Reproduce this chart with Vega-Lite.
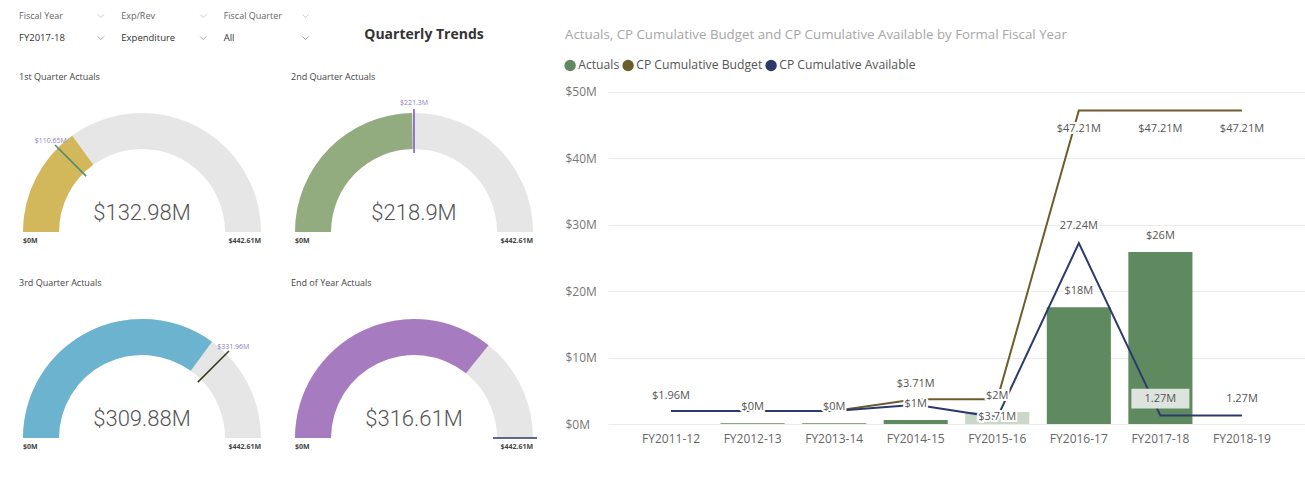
{
  "$schema": "https://vega.github.io/schema/vega-lite/v6.json",
  "background": "white",
  "padding": {"left": 19, "top": 5, "right": 0, "bottom": 0},
  "config": {
    "font": "Open Sans",
    "view": {"stroke": null},
    "locale": {"number": {"decimal": ".", "thousands": ",", "grouping": [3], "currency": ["$", "M"]}},
    "axis": {"domain": false, "ticks": false, "labelFont": "Open Sans"}
  },
  "spacing": 25,
  "hconcat": [
    {
      "spacing": 24,
      "vconcat": [
        {
          "spacing": 10,
          "hconcat": [
            {
              "width": 320,
              "height": 44,
              "data": {"values": [
                {"slicer": "Fiscal Year", "selected": "FY2017-18"},
                {"slicer": "Exp/Rev", "selected": "Expenditure"},
                {"slicer": "Fiscal Quarter", "selected": "All"}
              ]},
              "layer": [
                {
                  "mark": {"type": "text", "align": "left", "baseline": "middle", "fontSize": 9, "color": "#666"},
                  "encoding": {
                    "x": {"field": "slicer", "type": "nominal", "bandPosition": 0, "scale": {"type": "band", "domain": ["Fiscal Year", "Exp/Rev", "Fiscal Quarter"], "range": [0, 307], "paddingInner": 0, "paddingOuter": 0}, "axis": null},
                    "y": {"datum": "name", "type": "nominal", "scale": {"domain": ["name", "value"]}, "axis": null},
                    "text": {"field": "slicer"}
                  }
                },
                {
                  "mark": {"type": "text", "align": "left", "baseline": "middle", "fontSize": 9.5, "color": "#333"},
                  "encoding": {
                    "x": {"field": "slicer", "type": "nominal", "bandPosition": 0},
                    "y": {"datum": "value", "type": "nominal"},
                    "text": {"field": "selected"}
                  }
                },
                {
                  "mark": {"type": "point", "shape": "M-1,-0.5L0,0.5L1,-0.5", "filled": false, "stroke": "#b5b5b5", "strokeWidth": 1, "size": 36},
                  "encoding": {
                    "x": {"field": "slicer", "type": "nominal", "bandPosition": 0.8},
                    "y": {"datum": "name", "type": "nominal"}
                  }
                },
                {
                  "mark": {"type": "point", "shape": "M-1,-0.5L0,0.5L1,-0.5", "filled": false, "stroke": "#888", "strokeWidth": 1, "size": 40},
                  "encoding": {
                    "x": {"field": "slicer", "type": "nominal", "bandPosition": 0.8},
                    "y": {"datum": "value", "type": "nominal"}
                  }
                }
              ]
            },
            {
              "width": 150,
              "height": 44,
              "data": {"values": [{"heading": "Quarterly Trends"}]},
              "mark": {"type": "text", "fontSize": 14, "fontWeight": "bold", "color": "#333", "dy": 8},
              "encoding": {"text": {"field": "heading"}}
            }
          ]
        },
        {
          "data": {"values": [
            {"gauge": "1st Quarter Actuals", "min": 0, "value": 132.98, "target": 110.65, "max": 442.61},
            {"gauge": "2nd Quarter Actuals", "min": 0, "value": 218.9, "target": 221.3, "max": 442.61},
            {"gauge": "3rd Quarter Actuals", "min": 0, "value": 309.88, "target": 331.96, "max": 442.61},
            {"gauge": "End of Year Actuals", "min": 0, "value": 316.61, "target": 442.61, "max": 442.61}
          ]},
          "facet": {
            "field": "gauge", "type": "nominal",
            "sort": ["1st Quarter Actuals", "2nd Quarter Actuals", "3rd Quarter Actuals", "End of Year Actuals"],
            "header": {"title": null, "labelAnchor": "start", "labelFontSize": 9, "labelColor": "#444", "labelPadding": 5, "labelFont": "Open Sans"}
          },
          "columns": 2,
          "spacing": {"row": 34, "column": 23},
          "spec": {
            "width": 246,
            "height": 145,
            "encoding": {"y": {"datum": 0, "type": "quantitative", "scale": {"domain": [0, 1]}, "axis": null}},
            "layer": [
              {
                "mark": {"type": "arc", "radius": 119, "radius2": 83, "fill": "#e6e6e6"},
                "encoding": {
                  "theta": {"field": "min", "type": "quantitative", "stack": null, "scale": {"domain": [0, 442.61], "range": [-1.5708, 1.5708]}},
                  "theta2": {"field": "max"}
                }
              },
              {
                "mark": {"type": "arc", "radius": 119, "radius2": 83},
                "encoding": {
                  "theta": {"field": "min", "type": "quantitative", "stack": null},
                  "theta2": {"field": "value"},
                  "fill": {"field": "gauge", "type": "nominal", "scale": {"range": ["#d2b85a", "#93ac7f", "#6bb3cf", "#a77bc0"]}, "legend": null}
                }
              },
              {
                "mark": {"type": "arc", "radius": 123, "radius2": 79, "strokeWidth": 1.5, "fillOpacity": 0},
                "encoding": {
                  "theta": {"field": "target", "type": "quantitative", "stack": null},
                  "theta2": {"field": "target"},
                  "stroke": {"field": "gauge", "type": "nominal", "scale": {"range": ["#4f8a74", "#7b52b8", "#3a3a20", "#2c3a6b"]}, "legend": null}
                }
              },
              {
                "transform": [{"filter": "datum.target < datum.max"}],
                "mark": {"type": "text", "radius": 129, "fontSize": 7, "color": "#8e7cc3", "align": "center", "baseline": "middle"},
                "encoding": {
                  "theta": {"field": "target", "type": "quantitative", "stack": null},
                  "text": {"field": "target", "type": "quantitative", "format": "$.2~f"}
                }
              },
              {
                "mark": {"type": "text", "fontSize": 22, "font": "Roboto", "fontWeight": 300, "color": "#555", "dy": -19, "baseline": "middle"},
                "encoding": {"text": {"field": "value", "type": "quantitative", "format": "$.2~f"}}
              },
              {
                "mark": {"type": "text", "radius": 119, "fontSize": 7, "fontWeight": "bold", "color": "#444", "align": "left", "baseline": "middle", "dy": 9},
                "encoding": {
                  "theta": {"field": "min", "type": "quantitative", "stack": null},
                  "text": {"field": "min", "type": "quantitative", "format": "$.2~f"}
                }
              },
              {
                "mark": {"type": "text", "radius": 119, "fontSize": 7, "fontWeight": "bold", "color": "#444", "align": "right", "baseline": "middle", "dy": 9},
                "encoding": {
                  "theta": {"field": "max", "type": "quantitative", "stack": null},
                  "text": {"field": "max", "type": "quantitative", "format": "$.2~f"}
                }
              }
            ]
          }
        }
      ]
    },
    {
      "width": 697,
      "height": 419,
      "title": {"text": "Actuals, CP Cumulative Budget and CP Cumulative Available by Formal Fiscal Year", "anchor": "start", "frame": "bounds", "offset": -36, "fontSize": 13.3, "fontWeight": "normal", "color": "#a6a6a6", "font": "Open Sans"},
      "data": {"values": [
        {"year": "FY2011-12", "actual": null, "budget": 1.96, "avail": 1.96},
        {"year": "FY2012-13", "actual": 0.1, "budget": 1.96, "avail": 1.96},
        {"year": "FY2013-14", "actual": 0.1, "budget": 1.96, "avail": 1.96},
        {"year": "FY2014-15", "actual": 0.6, "budget": 3.71, "avail": 2.9},
        {"year": "FY2015-16", "actual": 1.8, "budget": 3.71, "avail": 1.0},
        {"year": "FY2016-17", "actual": 17.6, "budget": 47.21, "avail": 27.24},
        {"year": "FY2017-18", "actual": 25.9, "budget": 47.21, "avail": 1.27},
        {"year": "FY2018-19", "actual": null, "budget": 47.21, "avail": 1.27}
      ]},
      "encoding": {
        "x": {"field": "year", "type": "ordinal", "title": null, "scale": {"paddingInner": 0.214, "paddingOuter": 0.38}, "axis": {"labelAngle": 0, "labelColor": "#666", "labelFontSize": 12, "labelPadding": 9, "grid": false}}
      },
      "layer": [
        {
          "mark": {"type": "bar"},
          "encoding": {
            "y": {"field": "actual", "type": "quantitative", "title": null, "scale": {"domain": [0, 63.1], "nice": false}, "axis": {"values": [0, 10, 20, 30, 40, 50], "format": "$~f", "labelColor": "#777", "labelFontSize": 12, "labelAlign": "left", "labelPadding": 43, "gridColor": "#ebebeb"}},
            "color": {"datum": "Actuals", "type": "nominal",
              "scale": {"domain": ["Actuals", "CP Cumulative Budget", "CP Cumulative Available"], "range": ["#5f8a5f", "#6d5d2c", "#2c3a6b"]},
              "legend": {"orient": "none", "legendX": 545, "legendY": 54, "direction": "horizontal", "title": null, "symbolType": "circle", "symbolSize": 130, "labelFontSize": 12.2, "labelColor": "#555", "labelFont": "Open Sans", "columnPadding": 2, "labelOffset": 2, "symbolStrokeWidth": 0, "symbolOpacity": 1,
                "encode": {"symbols": {"update": {"fill": {"scale": "color", "field": "value"}, "strokeWidth": {"value": 0}}}}}},
            "opacity": {"condition": {"test": "datum.year === 'FY2015-16'", "value": 0.33}, "value": 1}
          }
        },
        {
          "mark": {"type": "line", "strokeWidth": 2},
          "encoding": {
            "y": {"field": "budget", "type": "quantitative"},
            "color": {"datum": "CP Cumulative Budget", "type": "nominal"}
          }
        },
        {
          "mark": {"type": "line", "strokeWidth": 2},
          "encoding": {
            "y": {"field": "avail", "type": "quantitative"},
            "color": {"datum": "CP Cumulative Available", "type": "nominal"}
          }
        },
        {
          "transform": [{"filter": "datum.actual != null"}],
          "encoding": {
            "y": {"field": "actual", "type": "quantitative"},
            "text": {"field": "actual", "type": "quantitative", "format": "$.0f"}
          },
          "layer": [
            {"mark": {"type": "text", "dy": -16, "fontSize": 11, "stroke": "white", "strokeWidth": 4, "color": "white"}},
            {"mark": {"type": "text", "dy": -16, "fontSize": 11, "color": "#555"}}
          ]
        },
        {
          "transform": [{"filter": {"field": "year", "oneOf": ["FY2011-12", "FY2014-15"]}}],
          "encoding": {
            "y": {"field": "budget", "type": "quantitative"},
            "text": {"field": "budget", "type": "quantitative", "format": "$.2~f"}
          },
          "layer": [
            {"mark": {"type": "text", "dy": -15, "fontSize": 11, "stroke": "white", "strokeWidth": 4, "color": "white"}},
            {"mark": {"type": "text", "dy": -15, "fontSize": 11, "color": "#555"}}
          ]
        },
        {
          "transform": [{"filter": {"field": "year", "oneOf": ["FY2015-16", "FY2016-17", "FY2017-18", "FY2018-19"]}}],
          "encoding": {
            "y": {"field": "budget", "type": "quantitative"},
            "text": {"field": "budget", "type": "quantitative", "format": "$.2~f"}
          },
          "layer": [
            {"mark": {"type": "text", "dy": 18, "fontSize": 11, "stroke": "white", "strokeWidth": 4, "color": "white"}},
            {"mark": {"type": "text", "dy": 18, "fontSize": 11, "color": "#555"}}
          ]
        },
        {
          "transform": [{"filter": {"field": "year", "equal": "FY2017-18"}}],
          "mark": {"type": "point", "shape": "M-1,-0.34H1V0.34H-1Z", "size": 3364, "filled": true, "fill": "#dde3dd", "opacity": 1, "strokeWidth": 0, "yOffset": -17},
          "encoding": {"y": {"field": "avail", "type": "quantitative"}}
        },
        {
          "transform": [{"filter": {"field": "year", "oneOf": ["FY2016-17"]}}],
          "mark": {"type": "text", "dy": -17, "fontSize": 11, "stroke": "white", "strokeWidth": 4, "color": "white", "text": {"expr": "format(datum.avail, '.2f') + 'M'"}},
          "encoding": {"y": {"field": "avail", "type": "quantitative"}}
        },
        {
          "transform": [{"filter": {"field": "year", "oneOf": ["FY2016-17", "FY2017-18", "FY2018-19"]}}],
          "mark": {"type": "text", "dy": -17, "fontSize": 11, "color": "#555", "text": {"expr": "format(datum.avail, '.2f') + 'M'"}},
          "encoding": {"y": {"field": "avail", "type": "quantitative"}}
        }
      ]
    }
  ]
}
